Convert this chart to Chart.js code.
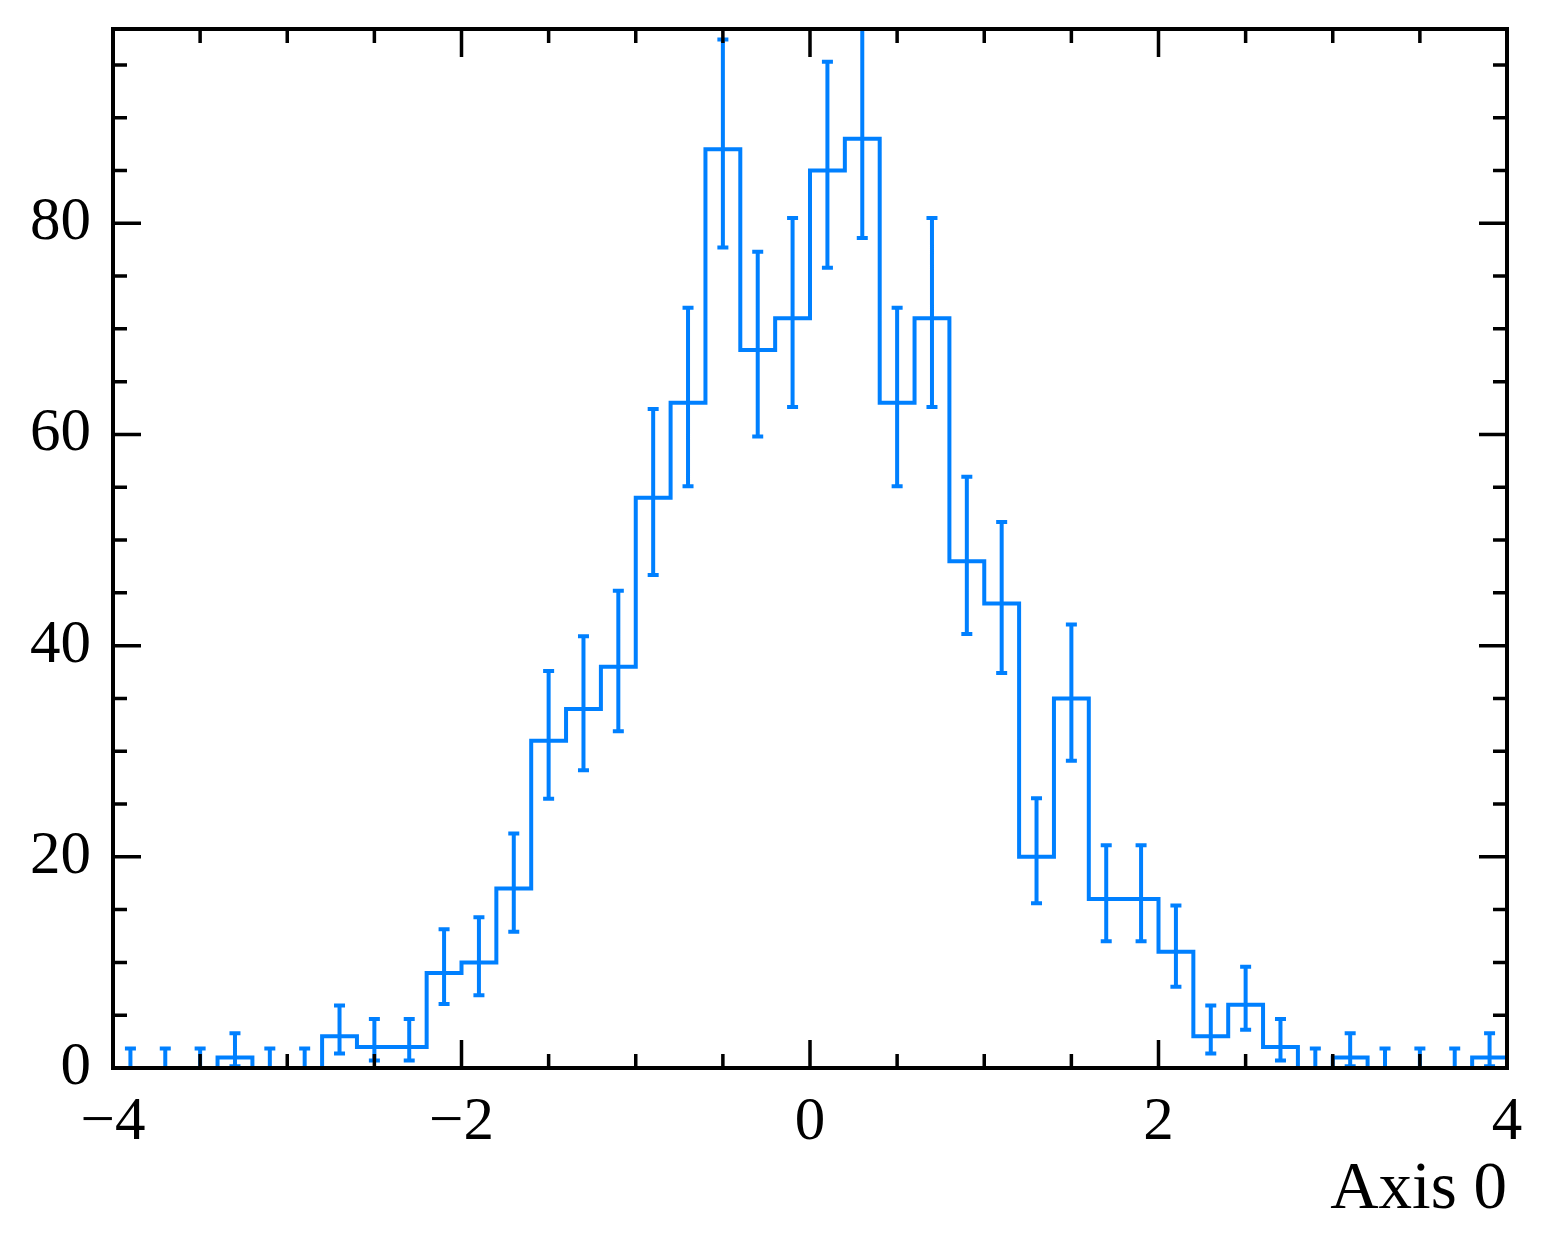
<!DOCTYPE html>
<html>
<head>
<meta charset="utf-8">
<script src="https://cdn.jsdelivr.net/npm/chart.js@4.4.1/dist/chart.umd.min.js"></script>
<style>
  html, body { margin: 0; padding: 0; background: #fff; }
  #wrap { width: 1553px; height: 1257px; }
</style>
</head>
<body>
<div id="wrap"><canvas id="hist"></canvas></div>
<script>
// ===== Histogram data =====
const binEdges = [-4.0, -3.8, -3.6, -3.4, -3.2, -3.0, -2.8, -2.6, -2.4, -2.2,
                  -2.0, -1.8, -1.6, -1.4, -1.2, -1.0, -0.8, -0.6, -0.4, -0.2,
                   0.0,  0.2,  0.4,  0.6,  0.8,  1.0,  1.2,  1.4,  1.6,  1.8,
                   2.0,  2.2,  2.4,  2.6,  2.8,  3.0,  3.2,  3.4,  3.6,  3.8, 4.0];
const counts   = [0, 0, 0, 1, 0, 0, 3, 2, 2, 9,
                  10, 17, 31, 34, 38, 54, 63, 87, 68, 71,
                  85, 88, 63, 71, 48, 44, 20, 35, 16, 16,
                  11, 3, 6, 2, 0, 1, 0, 0, 0, 1];
const errLow   = [0, 0, 0, 0.17, 0, 0, 1.37, 0.71, 0.71, 6.06,
                  6.89, 12.9, 25.5, 28.2, 31.9, 46.7, 55.1, 77.7, 59.8, 62.6,
                  75.8, 78.6, 55.1, 62.6, 41.1, 37.4, 15.6, 29.1, 12.0, 12.0,
                  7.7, 1.37, 3.62, 0.71, 0, 0.17, 0, 0, 0, 0.17];
const errHigh  = [1.84, 1.84, 1.84, 3.30, 1.84, 1.84, 5.92, 4.64, 4.64, 13.15,
                  14.27, 22.2, 37.6, 40.9, 45.2, 62.4, 72.0, 97.4, 77.3, 80.5,
                  95.3, 98.4, 72.0, 80.5, 56.0, 51.7, 25.55, 42.0, 21.1, 21.1,
                  15.4, 5.92, 9.58, 4.64, 1.84, 3.30, 1.84, 1.84, 1.84, 3.30];

const xMajorTicks = [-4, -2, 0, 2, 4];
const xMinorTicks = [-3.5, -3, -2.5, -1.5, -1, -0.5, 0.5, 1, 1.5, 2.5, 3, 3.5];
const yMajorTicks = [0, 20, 40, 60, 80];
const yMinorTicks = [5, 10, 15, 25, 30, 35, 45, 50, 55, 65, 70, 75, 85, 90, 95];
const xRange = [-4, 4];
const yRange = [0, 98.4];
const xTitle = 'Axis 0';

const lineColor = '#0080ff';
const fontFamily = "'Liberation Serif', 'DejaVu Serif', serif";

// step outline: one point per left edge, plus the final right edge
const stepPoints = counts.map((c, i) => ({ x: binEdges[i], y: c }));
stepPoints.push({ x: binEdges[binEdges.length - 1], y: counts[counts.length - 1] });

const fmt = v => (v < 0 ? '\u2212' + Math.abs(v) : String(v));

// ===== Error bars with caps =====
const errorBars = {
  id: 'errorBars',
  afterDatasetsDraw(chart) {
    const { ctx, chartArea: a, scales: { x, y } } = chart;
    ctx.save();
    ctx.beginPath();
    ctx.rect(a.left, a.top, a.width, a.height);
    ctx.clip();
    ctx.strokeStyle = lineColor;
    ctx.lineWidth = 4;
    ctx.beginPath();
    counts.forEach((c, i) => {
      const px = x.getPixelForValue((binEdges[i] + binEdges[i + 1]) / 2);
      const lo = y.getPixelForValue(errLow[i]);
      const hi = y.getPixelForValue(errHigh[i]);
      ctx.moveTo(px, lo); ctx.lineTo(px, hi);
      ctx.moveTo(px - 5.5, lo); ctx.lineTo(px + 5.5, lo);
      ctx.moveTo(px - 5.5, hi); ctx.lineTo(px + 5.5, hi);
    });
    ctx.stroke();
    ctx.restore();
  }
};

// ===== Frame and inward ticks on all four sides =====
const frameTicks = {
  id: 'frameTicks',
  afterDraw(chart) {
    const { ctx, chartArea: a, scales: { x, y } } = chart;
    ctx.save();
    ctx.strokeStyle = '#000';
    ctx.lineWidth = 3.5;
    const xTicks = (vals, len) => vals.forEach(v => {
      const px = x.getPixelForValue(v);
      ctx.moveTo(px, a.bottom); ctx.lineTo(px, a.bottom - len);
      ctx.moveTo(px, a.top); ctx.lineTo(px, a.top + len);
    });
    const yTicks = (vals, len) => vals.forEach(v => {
      const py = y.getPixelForValue(v);
      ctx.moveTo(a.left, py); ctx.lineTo(a.left + len, py);
      ctx.moveTo(a.right, py); ctx.lineTo(a.right - len, py);
    });
    ctx.beginPath();
    xTicks(xMajorTicks, 28);
    xTicks(xMinorTicks, 14);
    yTicks(yMajorTicks, 28);
    yTicks(yMinorTicks, 14);
    ctx.stroke();
    ctx.lineWidth = 4;
    ctx.strokeRect(a.left, a.top, a.width, a.height);
    ctx.restore();
  }
};

const ctx = document.getElementById('hist').getContext('2d');
new Chart(ctx, {
  type: 'line',
  data: {
    datasets: [{
      data: stepPoints,
      borderColor: lineColor,
      borderWidth: 4,
      stepped: true,
      fill: false,
      pointRadius: 0,
      tension: 0
    }]
  },
  options: {
    responsive: true,
    maintainAspectRatio: false,
    animation: false,
    layout: { padding: { top: 29, right: 46, left: 0, bottom: 0 } },
    plugins: { legend: { display: false }, tooltip: { enabled: false } },
    scales: {
      x: {
        type: 'linear',
        min: xRange[0],
        max: xRange[1],
        grid: { display: false, drawTicks: false },
        border: { display: false },
        afterBuildTicks: s => { s.ticks = xMajorTicks.map(v => ({ value: v })); },
        afterFit: s => { s.height = 189; s.paddingLeft = 0; s.paddingRight = 0; },
        ticks: {
          padding: 18,
          autoSkip: false,
          maxRotation: 0,
          color: '#000',
          font: { family: fontFamily, size: 61 },
          callback: v => fmt(v)
        },
        title: {
          display: true,
          text: xTitle,
          align: 'end',
          color: '#000',
          font: { family: fontFamily, size: 67 },
          padding: { top: 0, bottom: 26 }
        }
      },
      y: {
        type: 'linear',
        min: yRange[0],
        max: yRange[1],
        grid: { display: false, drawTicks: false },
        border: { display: false },
        afterBuildTicks: s => { s.ticks = yMajorTicks.map(v => ({ value: v })); },
        afterFit: s => { s.width = 113; s.paddingTop = 0; s.paddingBottom = 0; },
        ticks: {
          padding: 22,
          color: '#000',
          font: { family: fontFamily, size: 61 },
          callback: v => fmt(v)
        }
      }
    }
  },
  plugins: [errorBars, frameTicks]
});
</script>
</body>
</html>
